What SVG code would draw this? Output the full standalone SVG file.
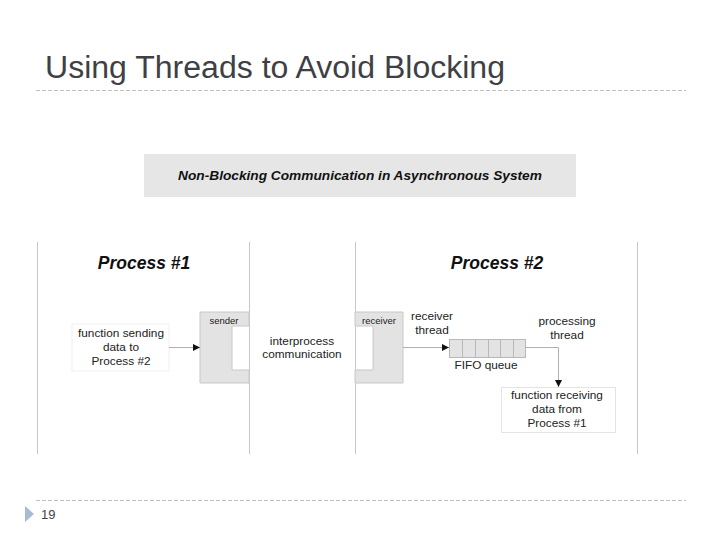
<svg xmlns="http://www.w3.org/2000/svg" width="720" height="540" viewBox="0 0 720 540">
<defs>
<style>
.t{font-family:"Liberation Sans",Arial,sans-serif;fill:#222}
.s{font-size:11.8px;text-anchor:middle}
.bi{font-weight:bold;font-style:italic;text-anchor:middle;fill:#111}
.v{stroke:#c8c8c8;stroke-width:1}
.c{stroke:#b0b0b0;stroke-width:1;fill:none}
.d{stroke:#bfbfbf;stroke-width:1;stroke-dasharray:4 2}
</style>
<marker id="a" markerWidth="8" markerHeight="8" refX="7" refY="4" orient="auto" markerUnits="userSpaceOnUse">
<path d="M0,0.5 L7,4 L0,7.5 Z" fill="#111"/>
</marker>
</defs>
<rect width="720" height="540" fill="#fff"/>
<text x="45" y="78" class="t" font-size="31" textLength="460" lengthAdjust="spacingAndGlyphs" style="fill:#3f3f46">Using Threads to Avoid Blocking</text>
<line x1="36" y1="90.5" x2="686" y2="90.5" class="d"/>
<g id="banner">
<rect x="144" y="154" width="432" height="43" fill="#e6e6e6"/>
<text x="360" y="180" class="t bi" font-size="13.7">Non-Blocking Communication in Asynchronous System</text>
</g>
<g id="lanes">
<line x1="37.5" y1="242" x2="37.5" y2="454" class="v"/>
<line x1="249.5" y1="242" x2="249.5" y2="454" class="v"/>
<line x1="355.5" y1="242" x2="355.5" y2="454" class="v"/>
<line x1="637.5" y1="242" x2="637.5" y2="454" class="v"/>
<text x="144" y="269" class="t bi" font-size="17.5">Process #1</text>
<text x="497" y="269" class="t bi" font-size="17.5">Process #2</text>
</g>
<g id="sender">
<path d="M200,312 H249 V326 H232 V370 H249 V383 H200 Z" fill="#e3e3e3" stroke="#c8c8c8"/>
<text x="224" y="324" class="t" font-size="9.5" text-anchor="middle">sender</text>
</g>
<g id="receiver">
<path d="M355,312 H403 V383 H355 V370 H373 V326 H355 Z" fill="#e3e3e3" stroke="#c8c8c8"/>
<text x="379" y="324" class="t" font-size="9.5" text-anchor="middle">receiver</text>
</g>
<g id="func-send">
<rect x="72" y="324" width="97" height="47" fill="#fff" stroke="#f0f0f0"/>
<text class="t s"><tspan x="121" y="337">function sending</tspan><tspan x="121" y="351">data to</tspan><tspan x="121" y="365">Process #2</tspan></text>
</g>
<g id="ipc">
<text class="t s"><tspan x="302" y="345">interprocess</tspan><tspan x="302" y="358">communication</tspan></text>
</g>
<g id="recv-thread">
<text class="t s"><tspan x="432" y="320">receiver</tspan><tspan x="432" y="334">thread</tspan></text>
</g>
<g id="fifo">
<rect x="449.5" y="339.5" width="76" height="18" fill="#e3e3e3" stroke="#b8b8b8"/>
<path d="M462.5,340 V357 M475.5,340 V357 M488.5,340 V357 M500.5,340 V357 M513.5,340 V357" stroke="#b8b8b8"/>
<text x="486" y="369" class="t s">FIFO queue</text>
</g>
<g id="proc-thread">
<text class="t s"><tspan x="567" y="325">processing</tspan><tspan x="567" y="339">thread</tspan></text>
</g>
<g id="func-recv">
<rect x="501.5" y="387.5" width="114" height="45" fill="#fff" stroke="#e4e4e4"/>
<text class="t s"><tspan x="557" y="399">function receiving</tspan><tspan x="557" y="413">data from</tspan><tspan x="557" y="427">Process #1</tspan></text>
</g>
<g id="connectors">
<line x1="169" y1="347.5" x2="200" y2="347.5" class="c" marker-end="url(#a)"/>
<line x1="403" y1="347.5" x2="449" y2="347.5" class="c" marker-end="url(#a)"/>
<path d="M525.5,347.5 H558.5 V387" class="c" marker-end="url(#a)"/>
</g>
<line x1="36" y1="500.5" x2="686" y2="500.5" class="d"/>
<path d="M25,506 L34,514 L25,522 Z" fill="#a9bbd1"/>
<text x="41" y="519" class="t" font-size="13" style="fill:#444">19</text>
</svg>
